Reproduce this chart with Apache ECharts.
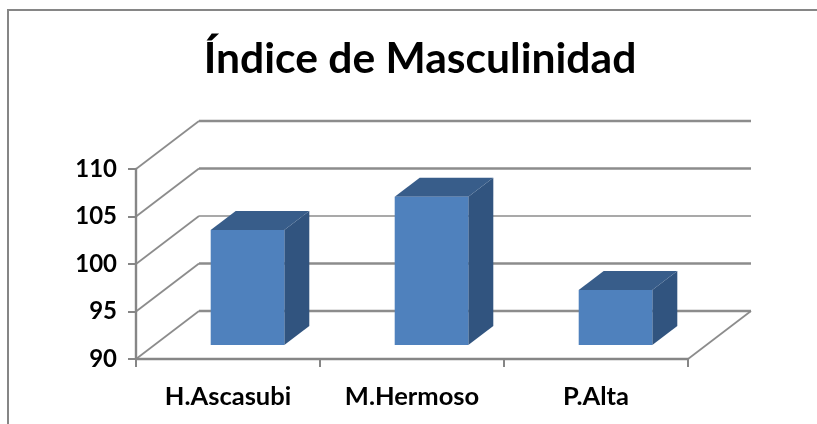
<!DOCTYPE html>
<html><head><meta charset="utf-8">
<style>html,body{margin:0;padding:0;background:#fff}#c{width:817px;height:424px}</style>
<script src="https://cdn.jsdelivr.net/npm/echarts@6/dist/echarts.min.js"></script>
</head><body><div id="c"></div>
<script>
const titleText = 'Índice de Masculinidad';
const categories = ['H.Ascasubi', 'M.Hermoso', 'P.Alta'];
const values = [102.1, 105.6, 95.8];
const gridValues = [90, 95, 100, 105, 110];

const wall = {dx: 63, dy: -48};
const barFront = {dx: 19.5, dy: -14};
const barDepth = {dx: 25, dy: -19};
const GRAY = '#868686';

const chart = echarts.init(document.getElementById('c'), null, {renderer: 'canvas'});
chart.setOption({
  animation: false,
  backgroundColor: '#fff',
  title: {text: titleText, left: 415, top: 33, textAlign: 'center',
    textStyle: {fontFamily: 'Lato', fontWeight: 'bold', fontSize: 42.6, color: '#000'}},
  graphic: [{type: 'rect', shape: {x: 8, y: 10, width: 900, height: 500}, silent: true, z: -1,
    style: {fill: 'none', stroke: GRAY, lineWidth: 2}}],
  grid: {left: 136, right: 129, top: 169, bottom: 65},
  xAxis: {type: 'category', data: categories, boundaryGap: true,
    axisLine: {lineStyle: {color: GRAY, width: 2.4}},
    axisTick: {show: true, length: 8, alignWithLabel: false, lineStyle: {color: GRAY, width: 2}},
    axisLabel: {fontFamily: 'Lato', fontWeight: 'bold', fontSize: 25.5, color: '#000', margin: 25}},
  yAxis: {type: 'value', min: 90, max: 110, interval: 5,
    splitLine: {show: false},
    axisLine: {show: true, lineStyle: {color: GRAY, width: 2.4}},
    axisTick: {show: true, length: 8, lineStyle: {color: GRAY, width: 2}},
    axisLabel: {fontFamily: 'Lato', fontWeight: 'bold', fontSize: 24, color: '#000', margin: 19}},
  series: [
    {type: 'custom', name: 'walls', z: 1, silent: true,
     data: gridValues.map(v => [v]),
     encode: {y: 0},
     renderItem(params, api) {
       const v = api.value(0);
       const p = api.coord([0, v]);
       const x0 = params.coordSys.x, x1 = x0 + params.coordSys.width;
       const y = p[1];
       const line = (a, b, c, d, w) => ({type: 'line', shape: {x1: a, y1: b, x2: c, y2: d},
         style: {stroke: GRAY, lineWidth: w, opacity: 0.95}});
       const w = v === 100 ? 1.5 : 2.4;
       const kids = [
         line(x0, y, x0 + wall.dx, y + wall.dy, 1.8),
         line(x0 + wall.dx, y + wall.dy, x1 + wall.dx, y + wall.dy, w)
       ];
       if (v === 90) kids.push(line(x1, y, x1 + wall.dx, y + wall.dy, 1.8));
       return {type: 'group', children: kids};
     }},
    {type: 'custom', name: 'Índice', z: 3,
     data: values.map((v, i) => [i, v]),
     encode: {x: 0, y: 1},
     renderItem(params, api) {
       const top = api.coord([api.value(0), api.value(1)]);
       const base = api.coord([api.value(0), 90]);
       const w = api.size([1, 0])[0] * 0.4;
       const l = top[0] - w / 2 + barFront.dx, r = l + w;
       const t = top[1] + barFront.dy, b = base[1] + barFront.dy;
       const dx = barDepth.dx, dy = barDepth.dy;
       return {type: 'group', children: [
         {type: 'polygon', shape: {points: [[r, t], [r + dx, t + dy], [r + dx, b + dy], [r, b]]},
          style: {fill: '#31547F'}},
         {type: 'polygon', shape: {points: [[l, t], [l + dx, t + dy], [r + dx, t + dy], [r, t]]},
          style: {fill: '#385D8A'}},
         {type: 'rect', shape: {x: l, y: t, width: w, height: b - t},
          style: {fill: '#4F81BD'}}
       ]};
     }}
  ]
});
</script></body></html>
